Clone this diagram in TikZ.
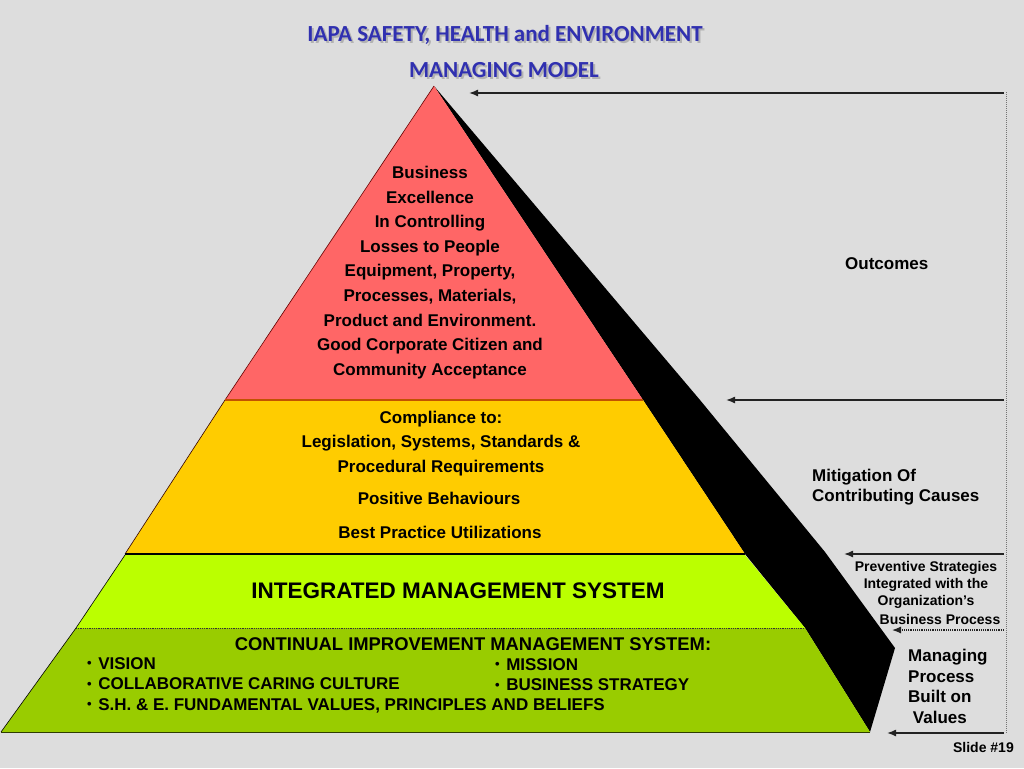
\documentclass[tikz,border=0pt]{standalone}
\usepackage{fontspec}
\setmainfont{Liberation Sans}
\newfontfamily\titlefont{Carlito}
\usetikzlibrary{arrows.meta}
\definecolor{bg}{HTML}{DDDDDD}
\definecolor{redl}{HTML}{FF6666}
\definecolor{yell}{HTML}{FFCC00}
\definecolor{lgreen}{HTML}{BBFF00}
\definecolor{dgreen}{HTML}{99CC00}
\definecolor{ttl}{HTML}{3030B0}
\definecolor{arrc}{HTML}{222222}
\newcommand{\mybul}{\raisebox{1.6pt}{\fontsize{13}{13}\selectfont\textbullet}\hspace{6.5pt}}
\tikzset{
  body/.style={font=\fontsize{17}{24.6}\selectfont\bfseries, align=center, inner sep=0pt},
  side/.style={font=\fontsize{17}{20.4}\selectfont\bfseries, align=left, inner sep=0pt, anchor=west},
  small/.style={font=\fontsize{14}{17}\selectfont\bfseries, inner sep=0pt},
  ttlstyle/.style={font=\titlefont\fontsize{23}{28}\selectfont\bfseries, text=ttl, inner sep=0pt},
  ttlshadow/.style={font=\titlefont\fontsize{23}{28}\selectfont\bfseries, text=black!30, inner sep=0pt},
  feed/.style={draw=arrc, line width=1.4pt, -{Latex[length=9pt,width=7pt]}},
  feeddot/.style={draw=arrc, line width=1.2pt, densely dotted, -{Latex[length=9pt,width=7pt]}},
}
\begin{document}
\begin{tikzpicture}[x=1pt,y=-1pt]
\useasboundingbox (0,0) rectangle (1024,768);
\fill[bg] (0,0) rectangle (1024,768);
% title
\node[ttlshadow] at (507,37) {IAPA SAFETY, HEALTH and ENVIRONMENT};
\node[ttlstyle] (t1) at (505,35) {IAPA SAFETY, HEALTH and ENVIRONMENT};
\node[ttlshadow] at (506,72) {MANAGING MODEL};
\node[ttlstyle] (t2) at (504,70) {MANAGING MODEL};
% black shadow band
\fill[black] (434,86) -- (700,400) -- (825,552) -- (895,648) -- (870,732) -- (805,628) -- (745,554) -- (643,400) -- cycle;
% layers
\fill[dgreen] (76,628) -- (805,628) -- (870,732) -- (1,732) -- cycle;
\draw[black!70!dgreen, line width=1pt] (1,732) -- (870,732);
\draw[black, line width=0.6pt] (1,732) -- (76,628);
\fill[lgreen] (125,555) -- (745,555) -- (805,628) -- (76,628) -- cycle;
\draw[black, line width=0.6pt] (125,555) -- (76,628);
\draw[black!80, line width=0.8pt, densely dotted] (76,628) -- (805,628);
\fill[yell] (225,400) -- (643,400) -- (745,554) -- (125,554) -- cycle;
\draw[black!80!red, line width=0.6pt] (225,400) -- (125,554);
\draw[black, line width=1.2pt] (125,554) -- (745,554);
\fill[redl] (434,86) -- (643,400) -- (225,400) -- cycle;
\draw[black!60!red, line width=0.6pt] (434,86) -- (225,400);
\draw[black!40!red!60!yell, line width=1.5pt] (225,400) -- (643,400);
% texts in pyramid
\node[body] (top) at (430,272.5) {Business\\Excellence\\In Controlling\\Losses to People\\Equipment, Property,\\Processes, Materials,\\Product and Environment.\\Good Corporate Citizen and\\Community Acceptance};
\node[body] (comp) at (441,443.5) {Compliance to:\\Legislation, Systems, Standards \&\\Procedural Requirements};
\node[body] (posb) at (439,498) {Positive Behaviours};
\node[body] (best) at (440,532) {Best Practice Utilizations};
\node[body, font=\fontsize{22.5}{26}\selectfont\bfseries] (ims) at (458,591) {INTEGRATED MANAGEMENT SYSTEM};
\node[body, font=\fontsize{18.4}{22}\selectfont\bfseries] (cims) at (473,644) {CONTINUAL IMPROVEMENT MANAGEMENT SYSTEM:};
\node[side, font=\fontsize{17}{20.5}\selectfont\bfseries] (bl) at (87,685) {\mybul VISION\\\mybul COLLABORATIVE CARING CULTURE\\\mybul S.H. \& E. FUNDAMENTAL VALUES, PRINCIPLES AND BELIEFS};
\node[side, font=\fontsize{17}{20.5}\selectfont\bfseries] (br) at (495,674.5) {\mybul MISSION\\\mybul BUSINESS STRATEGY};
% right labels
\node[side] (out) at (845,263.5) {Outcomes};
\node[side] (mit) at (812,487) {Mitigation Of\\Contributing Causes};
\node[small] (p1) at (926,568) {Preventive Strategies};
\node[small] (p2) at (926,585) {Integrated with the};
\node[small] (p3) at (926,602) {Organization’s};
\node[small] (p4) at (940,619) {Business Process};
\node[side] (mp) at (908,686.5) {Managing\\Process\\Built on\\\ Values};
\node[small, anchor=east] (slide) at (1014,747) {Slide \#19};
% feedback lines
\coordinate (r1) at (1004,93);
\coordinate (r2) at (1004,400);
\coordinate (r3) at (1004,554);
\coordinate (r4) at (1004,630);
\coordinate (r5) at (1004,733);
\coordinate (a1) at (469,93);
\coordinate (a2) at (726,400);
\coordinate (a3) at (844,554);
\coordinate (a4) at (892,630);
\coordinate (a5) at (887,733);
\draw[black!55, line width=1pt, densely dotted] (1006,92) -- (1006,734);
\draw[feed] (r1) -- (a1);
\draw[feed] (r2) -- (a2);
\draw[feed] (r3) -- (a3);
\draw[feeddot] (r4) -- (a4);
\draw[feed] (r5) -- (a5);
\end{tikzpicture}
\end{document}
